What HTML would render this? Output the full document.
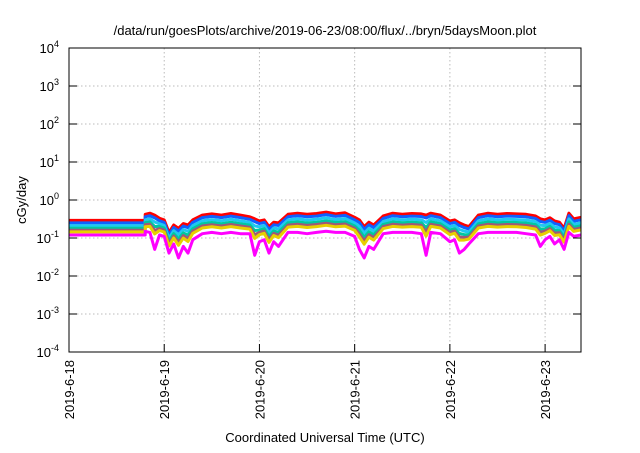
<!DOCTYPE html>
<html><head><meta charset="utf-8"><style>
body{margin:0;background:#fff;}
svg text{font-family:"Liberation Sans",sans-serif;fill:#000;}
</style></head><body>
<svg id="chart" width="640" height="448" viewBox="0 0 640 448" xmlns="http://www.w3.org/2000/svg">
<text x="325" y="35" font-size="13" text-anchor="middle">/data/run/goesPlots/archive/2019-06-23/08:00/flux/../bryn/5daysMoon.plot</text>
<g id="grid"></g>
<g id="series"></g>
<rect x="69" y="48" width="512" height="304" fill="none" stroke="#000" stroke-width="1"/>
<g id="axes"></g>
<text transform="translate(26,200) rotate(-90)" font-size="13" text-anchor="middle">cGy/day</text>
<text x="325" y="442" font-size="13" text-anchor="middle">Coordinated Universal Time (UTC)</text>
</svg>
<script>
const xTickLabels = ["2019-6-18","2019-6-19","2019-6-20","2019-6-21","2019-6-22","2019-6-23"];
const yTickExps = [-4,-3,-2,-1,0,1,2,3,4];
const flatLevels = [0.29,0.25,0.21,0.18,0.16,0.145,0.12];
const seriesColors = ["#ff0000","#1060ff","#20c8f0","#00c8a0","#a05878","#e8d000","#ff00ff"];
const times = [0.8,0.85,0.9,0.95,1.0,1.05,1.1,1.15,1.2,1.25,1.3,1.4,1.5,1.6,1.7,1.8,1.9,1.95,2.0,2.05,2.1,2.15,2.2,2.3,2.4,2.5,2.6,2.7,2.8,2.9,3.0,3.05,3.1,3.15,3.2,3.3,3.4,3.5,3.6,3.7,3.75,3.8,3.9,4.0,4.05,4.1,4.15,4.2,4.3,4.4,4.5,4.6,4.7,4.8,4.9,4.95,5.0,5.05,5.1,5.15,5.2,5.25,5.3,5.377];
const redValues = [0.42,0.45,0.40,0.33,0.30,0.14,0.22,0.18,0.24,0.22,0.30,0.40,0.43,0.40,0.44,0.40,0.36,0.32,0.28,0.30,0.20,0.26,0.25,0.42,0.45,0.42,0.44,0.48,0.43,0.46,0.35,0.30,0.20,0.26,0.22,0.38,0.45,0.42,0.44,0.43,0.40,0.45,0.40,0.28,0.30,0.25,0.22,0.20,0.40,0.45,0.42,0.44,0.43,0.42,0.38,0.32,0.30,0.34,0.28,0.26,0.18,0.45,0.32,0.35];
const magentaValues = [0.15,0.14,0.05,0.12,0.11,0.04,0.07,0.03,0.06,0.04,0.09,0.13,0.14,0.13,0.14,0.13,0.13,0.035,0.08,0.09,0.04,0.08,0.06,0.14,0.14,0.13,0.14,0.15,0.14,0.14,0.11,0.05,0.03,0.06,0.05,0.13,0.14,0.14,0.14,0.13,0.035,0.14,0.13,0.08,0.09,0.04,0.05,0.07,0.13,0.14,0.14,0.14,0.14,0.13,0.12,0.06,0.09,0.11,0.07,0.09,0.05,0.14,0.11,0.12];
const startDay = 0, endDay = 5.377;

const L=69,R=581,T=48,B=352;
const xS = d => L + (d-startDay)/(endDay-startDay)*(R-L);
const yS = v => B - (Math.log10(v)+4)/8*(B-T);
const NS="http://www.w3.org/2000/svg";
const grid=document.getElementById('grid'), axes=document.getElementById('axes'), ser=document.getElementById('series');
function mk(tag,attrs,parent){const e=document.createElementNS(NS,tag);for(const k in attrs)e.setAttribute(k,attrs[k]);parent.appendChild(e);return e;}

yTickExps.forEach((p,i)=>{
  const y=yS(Math.pow(10,p));
  if(i>0&&i<yTickExps.length-1){const g=mk('line',{x1:L,x2:R,y1:y,y2:y,stroke:'#bbb','stroke-dasharray':'1.5,2.5'},grid);
  
  }
  const t1=mk('line',{x1:L,x2:L+8,y1:y,y2:y,stroke:'#000'},axes);
  
  
  const t2=mk('line',{x1:R-8,x2:R,y1:y,y2:y,stroke:'#000'},axes);
  
  
  const tx=mk('text',{x:L-10,y:y+5,'font-size':'13','text-anchor':'end'},axes);
  
  
  tx.innerHTML='10<tspan dy="-6" font-size="9">'+p+'</tspan>';
});
xTickLabels.forEach((lab,i)=>{
  const x=xS(i);
  if(i>0){const g=mk('line',{x1:x,x2:x,y1:T,y2:B,stroke:'#bbb','stroke-dasharray':'1.5,2.5'},grid);
  
  }
  const t1=mk('line',{x1:x,x2:x,y1:B-8,y2:B,stroke:'#000'},axes);
  
  
  const tx=mk('text',{transform:'translate('+(x+5)+','+(B+8)+') rotate(-90)','font-size':'13','text-anchor':'end'},axes);
  
  
  tx.textContent=lab;
});
flatLevels.forEach((lvl,s)=>{
  const fr=(Math.log10(flatLevels[0])-Math.log10(lvl))/(Math.log10(flatLevels[0])-Math.log10(flatLevels[6]));
  let pts=[[xS(startDay),yS(lvl)],[xS(times[0]),yS(lvl)]];
  times.forEach((t,i)=>{
    const lr=Math.log10(redValues[i]), lm=Math.log10(magentaValues[i]);
    const base=lr+Math.log10(lvl/flatLevels[0]);
    const dip=lm-(lr+Math.log10(flatLevels[6]/flatLevels[0]));
    const w = s===6 ? 1 : fr*fr*0.6;
    const v=Math.pow(10, base+dip*w);
    pts.push([xS(t),yS(v)]);
  });
  const p=mk('polyline',{points:pts.map(q=>q[0].toFixed(1)+','+q[1].toFixed(1)).join(' '),fill:'none',stroke:seriesColors[s],'stroke-width':'3','stroke-linejoin':'round'},ser);
  
  
});
</script>
</body></html>
